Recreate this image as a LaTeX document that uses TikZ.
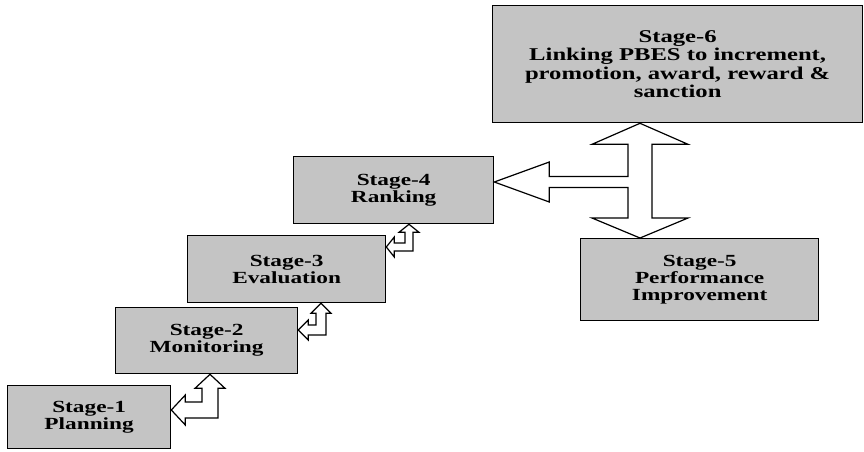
\documentclass[tikz,border=0pt]{standalone}
\usepackage{fontspec}
\setmainfont[FakeStretch=1.37]{Liberation Serif}
\usetikzlibrary{calc}
\definecolor{boxgray}{RGB}{196,196,196}
\tikzset{
  stagebox/.style={draw=black, line width=1.3pt, fill=boxgray, anchor=north west,
    align=center, inner sep=2pt, font=\bfseries\fontsize{17}{17}\selectfont},
  hollow/.style={draw=black, line width=1.2pt, fill=white, line join=miter},
}
\newcommand{\bentarrow}[5]{% #1 up tip, #2 left tip, #3 head half, #4 head length, #5 shaft half
  \draw[hollow] (#1) -- ($(#1)+(#3,#4)$) -- ($(#1)+(#5,#4)$) -- ($(#1 |- #2)+(#5,#5)$)
    -- ($(#2)+(#4,#5)$) -- ($(#2)+(#4,#3)$) -- (#2) -- ($(#2)+(#4,-#3)$) -- ($(#2)+(#4,-#5)$)
    -- ($(#1 |- #2)+(-#5,-#5)$) -- ($(#1)+(-#5,#4)$) -- ($(#1)+(-#3,#4)$) -- cycle;}
\begin{document}
\begin{tikzpicture}[x=1pt,y=-1pt]
\useasboundingbox[fill=white] (0,0) rectangle (864,452);
% stages
\node[stagebox, minimum width=163pt, minimum height=63pt] (s1) at (7,385) {Stage-1\\Planning};
\node[stagebox, minimum width=182pt, minimum height=66pt] (s2) at (115,307) {Stage-2\\Monitoring};
\node[stagebox, minimum width=198pt, minimum height=67pt] (s3) at (187,235) {Stage-3\\Evaluation};
\node[stagebox, minimum width=200pt, minimum height=67pt] (s4) at (293,156) {Stage-4\\Ranking};
\node[stagebox, minimum width=238pt, minimum height=82pt] (s5) at (580,238) {Stage-5\\Performance\\Improvement};
\node[stagebox, minimum width=370pt, minimum height=117pt, font=\bfseries\fontsize{18}{18.5}\selectfont] (s6) at (492,5) {Stage-6\\Linking PBES to increment,\\promotion, award, reward \&\\sanction};
% bent arrows between low stages
\coordinate (u1) at (210,0 |- s2.south);
\coordinate (l1) at (s1.east |- 0,410);
\bentarrow{u1}{l1}{15}{14}{8}
\coordinate (u2) at (321,0 |- s3.south);
\coordinate (l2) at (s2.east |- 0,330);
\bentarrow{u2}{l2}{10}{10}{5}
\coordinate (u3) at (409,0 |- s4.south);
\coordinate (l3) at (s3.east |- 0,247);
\bentarrow{u3}{l3}{10}{8}{4}
% big arrow: stage-6 <-> stage-5 with branch to stage-4
\coordinate (T) at (640,0 |- s6.south);
\coordinate (B) at (640,0 |- s5.north);
\coordinate (L4) at (s4.east |- 0,182);
\draw[hollow] (T) -- ($(T)+(48,21)$) -- ($(T)+(12,21)$) -- ($(B)+(12,-20)$) -- ($(B)+(48,-20)$)
  -- (B) -- ($(B)+(-48,-20)$) -- ($(B)+(-12,-20)$) -- ($(T |- L4)+(-12,5.5)$)
  -- ($(L4)+(55,5.5)$) -- ($(L4)+(55,20)$) -- (L4) -- ($(L4)+(55,-20)$) -- ($(L4)+(55,-5.5)$)
  -- ($(T |- L4)+(-12,-5.5)$) -- ($(T)+(-12,21)$) -- ($(T)+(-48,21)$) -- cycle;
\end{tikzpicture}
\end{document}
